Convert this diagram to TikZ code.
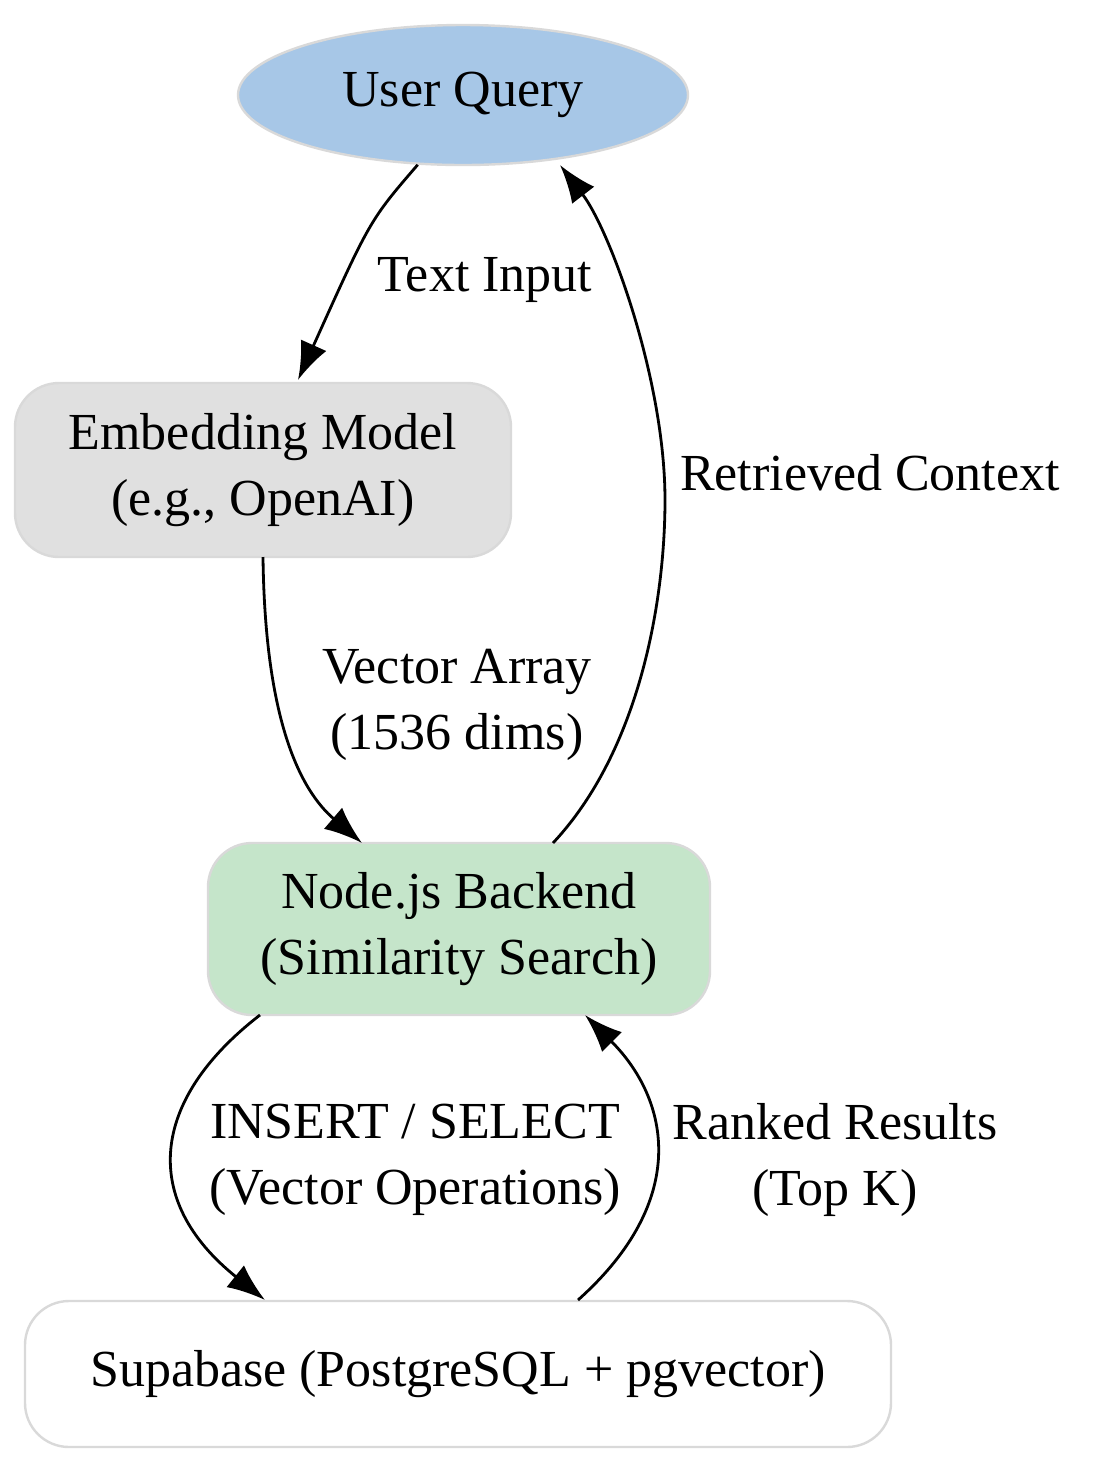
\documentclass[tikz,border=0pt]{standalone}
\usepackage{fontspec}
\setmainfont{Liberation Serif}
\usetikzlibrary{shapes.geometric,arrows.meta}
\definecolor{queryblue}{HTML}{A7C7E7}
\definecolor{embgray}{HTML}{E0E0E0}
\definecolor{backgreen}{HTML}{C5E5CA}
\definecolor{rimgray}{HTML}{D9D9D9}
\begin{document}
\begin{tikzpicture}[x=0.5pt, y=-0.5pt, thick, nodes = {align = center}, >={Latex[length=19pt,width=14pt]}]

  \tikzset{box/.style={draw=rimgray, line width=1.2pt, rectangle, rounded corners=22pt, font=\fontsize{26}{33}\selectfont},
    lbl/.style={font=\fontsize{26}{33}\selectfont},
    link/.style={->, line width=1.4pt}}

  \useasboundingbox (0,0) rectangle (1095,1469);

  % Nodes
  \node[draw=rimgray, line width=1.2pt, ellipse, fill=queryblue, minimum width=225pt, minimum height=70pt, font=\fontsize{26}{33}\selectfont] (query) at (463,95) {User Query};
  \node[box, fill=embgray, minimum width=248pt, minimum height=87pt] (embed) at (263,470) {Embedding Model\\(e.g., OpenAI)};
  \node[box, fill=backgreen, minimum width=251pt, minimum height=86pt] (backend) at (459,929) {Node.js Backend\\(Similarity Search)};
  \node[box, fill=white, minimum width=433pt, minimum height=73pt] (supa) at (458,1374) {Supabase (PostgreSQL + pgvector)};

  % Edges
  \draw[link] (query.237) .. controls (370,220) .. (298,380);
  \node[lbl] (l1) at (485,280) {Text Input};

  \draw[link] (263,557) .. controls (265,720) and (300,790) .. (362,843);
  \node[lbl] (l2) at (457,705) {Vector Array\\(1536 dims)};

  \draw[link] (553,843) .. controls (640,750) and (665,600) .. (665,500)
    .. controls (665,380) and (610,230) .. (560,165);
  \node[lbl] (l3) at (870,473) {Retrieved Context};

  \draw[link] (260,1015) .. controls (150,1100) and (140,1200) .. (265,1300);
  \node[lbl] (l4) at (415,1160) {INSERT / SELECT\\(Vector Operations)};

  \draw[link] (578,1300) .. controls (690,1200) and (670,1100) .. (585,1015);
  \node[lbl] (l5) at (835,1160) {Ranked Results\\(Top K)};

\end{tikzpicture}
\end{document}
